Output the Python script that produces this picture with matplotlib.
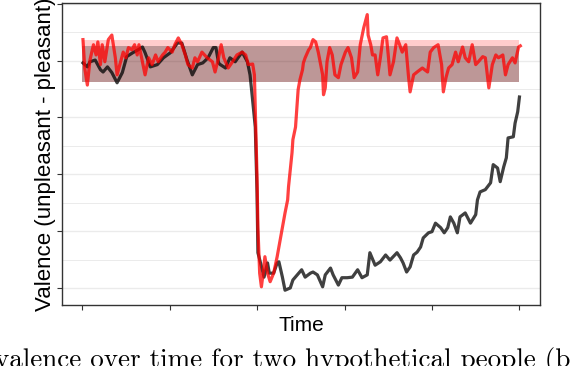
import matplotlib
matplotlib.use("Agg")
import matplotlib.pyplot as plt
from matplotlib.ticker import MultipleLocator, NullFormatter

# Time points and valence traces
red_time = [1, 3, 6, 9, 13, 16, 18, 21, 23, 26, 30, 34, 38, 40, 44, 47, 50, 53, 57, 60,
            63, 65, 69, 72, 76, 80, 84, 87, 92, 95, 98, 103, 106, 110, 114, 118, 121, 126, 129, 132,
            137, 143, 149, 152, 156, 159, 162, 167, 172, 177, 183, 187, 190, 195, 197, 198, 200, 201, 203, 205,
            207, 209, 212, 215, 219, 223, 225, 229, 232, 235, 236, 238, 240, 241, 244, 246, 247, 249, 252, 253,
            255, 259, 261, 264, 267, 270, 275, 276, 278, 280, 283, 286, 289, 293, 296, 301, 304, 308, 311, 315,
            318, 322, 326, 327, 330, 332, 335, 338, 341, 344, 348, 350, 352, 356, 360, 363, 366, 370, 373, 375,
            379, 383, 389, 395, 398, 402, 407, 411, 413, 416, 419, 423, 427, 430, 435, 438, 442, 446, 450, 453,
            458, 461, 465, 469, 473, 476, 481, 484, 487, 492, 495, 499, 501]
red_valence = [4.37, 3.87, 3.57, 4.01, 4.28, 4.10, 4.33, 3.93, 4.28, 3.98, 4.37, 4.45, 4.05, 3.75, 3.98, 4.15, 4.05, 4.23, 4.19, 4.28,
               4.10, 4.28, 3.98, 3.75, 4.05, 3.93, 4.10, 3.98, 4.10, 4.15, 4.23, 4.15, 4.28, 4.40, 4.28, 4.10, 3.93, 3.87, 4.05, 3.98,
               4.15, 4.05, 3.98, 3.80, 4.05, 4.28, 4.05, 3.87, 3.98, 4.10, 4.15, 4.10, 3.93, 3.94, 3.75, 3.13, 1.95, 1.07, 0.26, 0.02,
               0.26, 0.55, 0.26, 0.11, 0.26, 0.55, 0.72, 1.07, 1.32, 1.55, 1.78, 2.08, 2.38, 2.61, 2.83, 3.26, 3.49, 3.66, 3.84, 3.96,
               4.05, 4.19, 4.23, 4.37, 4.33, 4.15, 3.75, 3.40, 3.52, 3.98, 4.23, 4.10, 3.75, 3.70, 3.93, 4.15, 4.23, 4.05, 3.70, 3.80,
               4.28, 4.58, 4.81, 4.45, 4.28, 4.10, 4.10, 3.75, 4.05, 4.40, 4.42, 4.10, 3.75, 3.98, 4.40, 4.28, 4.15, 4.28, 3.75, 3.45,
               3.75, 3.80, 3.87, 3.80, 4.15, 4.23, 4.28, 3.93, 3.45, 3.70, 3.87, 3.93, 4.15, 3.98, 4.24, 4.05, 3.98, 4.28, 3.93, 3.98,
               4.07, 4.05, 3.52, 3.93, 4.10, 4.05, 4.10, 3.75, 3.93, 4.05, 3.96, 4.24, 4.26]

black_time = [1, 6, 9, 15, 21, 24, 29, 34, 40, 46, 51, 58, 64, 69, 72, 78, 86, 93, 101, 109,
              114, 120, 126, 132, 138, 144, 150, 153, 156, 158, 164, 169, 175, 183, 189, 192, 194, 198, 200, 201,
              204, 206, 208, 212, 214, 219, 223, 225, 229, 232, 238, 241, 246, 251, 255, 261, 264, 269, 275, 278,
              284, 287, 293, 297, 303, 309, 315, 320, 326, 329, 335, 341, 347, 352, 360, 364, 367, 371, 375, 379,
              383, 387, 390, 396, 400, 404, 410, 414, 418, 421, 425, 429, 432, 438, 444, 450, 452, 455, 461, 467,
              470, 475, 478, 482, 485, 487, 493, 495, 498, 500]
black_valence = [3.96, 3.89, 3.98, 4.01, 3.84, 3.80, 3.89, 3.79, 3.61, 3.79, 4.07, 4.14, 4.19, 4.24, 4.14, 3.89, 3.93, 4.05, 4.14, 4.31,
                 4.31, 4.01, 3.75, 3.93, 3.96, 4.05, 4.23, 4.23, 3.96, 3.93, 3.87, 4.05, 3.98, 4.15, 3.98, 3.75, 3.45, 2.83, 1.67, 0.62,
                 0.44, 0.32, 0.19, 0.44, 0.26, 0.26, 0.44, 0.46, 0.19, -0.04, 0.00, 0.14, 0.23, 0.32, 0.19, 0.26, 0.28, 0.23, 0.02, 0.23,
                 0.35, 0.23, 0.05, 0.18, 0.18, 0.19, 0.32, 0.18, 0.23, 0.62, 0.40, 0.46, 0.58, 0.49, 0.62, 0.53, 0.44, 0.28, 0.37, 0.58,
                 0.63, 0.72, 0.88, 0.97, 0.99, 1.14, 1.06, 0.97, 1.06, 1.25, 1.14, 0.97, 1.25, 1.32, 1.14, 1.29, 1.55, 1.69, 1.73, 1.85,
                 2.17, 2.11, 1.87, 2.13, 2.29, 2.64, 2.66, 2.90, 3.10, 3.36]

# Baseline ranges (mean +/- sd) for each person
band_time = [0, 500]
red_band = (3.63, 4.37)
black_band = (3.63, 4.26)

caption = "valence over time for two hypothetical people (b"

fig = plt.figure(figsize=(5.76, 3.66), dpi=100)
ax = fig.add_axes([0.1076, 0.1667, 0.8299, 0.8260])

ax.fill_between(band_time, red_band[0], red_band[1], color="red", alpha=0.2, lw=0, zorder=2)
ax.fill_between(band_time, black_band[0], black_band[1], color="black", alpha=0.26, lw=0, zorder=2)

ax.plot(black_time, black_valence, color="black", alpha=0.75, lw=2.3, zorder=3)
ax.plot(red_time, red_valence, color="red", alpha=0.75, lw=2.3, zorder=4)

ax.set_xlim(-23, 523.5)
ax.set_ylim(-0.3, 5.02)
ax.xaxis.set_major_locator(MultipleLocator(100))
ax.yaxis.set_major_locator(MultipleLocator(1))
ax.yaxis.set_minor_locator(MultipleLocator(0.5))
ax.xaxis.set_major_formatter(NullFormatter())
ax.yaxis.set_major_formatter(NullFormatter())
ax.tick_params(which="major", length=3.5, width=0.8, color="#333333")
ax.tick_params(axis="y", which="minor", length=0)

ax.grid(axis="y", which="major", color="#ebebeb", lw=1.0, zorder=0)
ax.grid(axis="y", which="minor", color="#ebebeb", lw=0.7, zorder=0)
ax.set_axisbelow(True)
for s in ax.spines.values():
    s.set_color("#333333")
    s.set_linewidth(1.0)

ax.set_xlabel("Time", fontsize=15, family="Liberation Sans", labelpad=1)
ax.set_ylabel("Valence (unpleasant - pleasant)", fontsize=16, family="Liberation Sans", labelpad=-3)

fig.text(-0.008, -0.004, caption, fontsize=19.5, family="cmr10", ha="left", va="baseline")

fig.savefig("out.png", dpi=100)
